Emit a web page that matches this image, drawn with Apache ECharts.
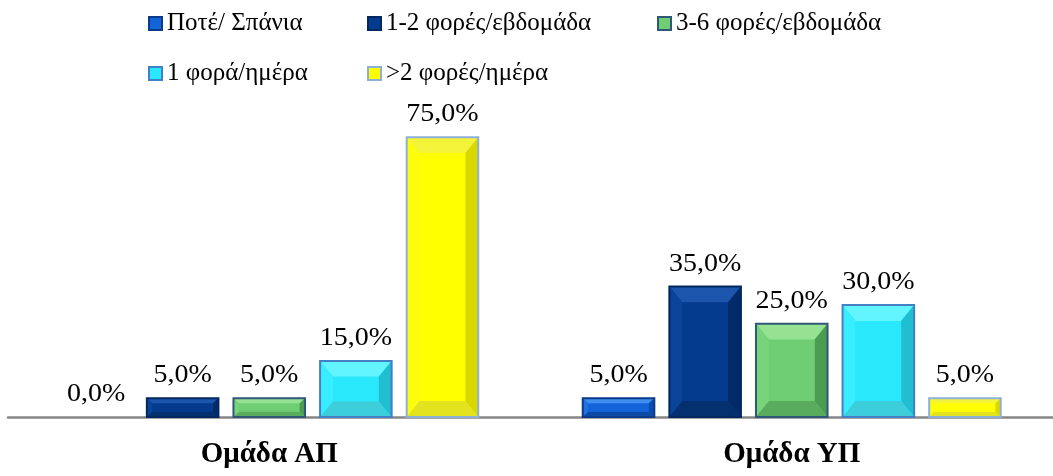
<!DOCTYPE html>
<html>
<head>
<meta charset="utf-8">
<script src="https://cdn.jsdelivr.net/npm/echarts@6/dist/echarts.min.js"></script>
<style>
  html, body { margin: 0; padding: 0; background: #fff; }
  #chart { width: 1053px; height: 476px; }
</style>
</head>
<body>
<div id="chart"></div>
<script>
// Groups along the x axis
const categories = ['Ομάδα ΑΠ', 'Ομάδα ΥΠ'];

// Frequency classes (legend entries)
const seriesNames = ['Ποτέ/ Σπάνια', '1-2 φορές/εβδομάδα', '3-6 φορές/εβδομάδα', '1 φορά/ημέρα', '>2 φορές/ημέρα'];

// Percentages per group
const neverRarely = [0.0, 5.0];
const onceTwiceWeek = [5.0, 35.0];
const threeSixWeek = [5.0, 25.0];
const oncePerDay = [15.0, 30.0];
const overTwiceDay = [75.0, 5.0];

const seriesValues = [neverRarely, onceTwiceWeek, threeSixWeek, oncePerDay, overTwiceDay];

// Bevelled bar shades: face, top, left, right, bottom, border
const palettes = [
  { face: '#1264d8', top: '#3f8ef0', left: '#2070e0', right: '#0a4cae', bottom: '#0c4aa6', border: '#0a3a88' },
  { face: '#053b8e', top: '#1b55ac', left: '#0a4498', right: '#032b6a', bottom: '#04306f', border: '#03285f' },
  { face: '#6fce74', top: '#94e292', left: '#78d47b', right: '#4b9b51', bottom: '#59ab5d', border: '#2f5878' },
  { face: '#29e8fc', top: '#62f5ff', left: '#38edfe', right: '#21bdd1', bottom: '#3dcedb', border: '#4180c6' },
  { face: '#ffff00', top: '#f4f43a', left: '#fcfc0c', right: '#d8d800', bottom: '#e2e21e', border: '#8eb0d8' }
];

const FONT = 'Liberation Serif';
const CAT_GAP = 0.2;   // share of each category left empty
const BAR_GAP = 0.21;  // gap between bars, relative to bar width
const N = seriesValues.length;

function fmt(v) {
  return v.toFixed(1).replace('.', ',') + '%';
}

function makeRenderer(idx) {
  const pal = palettes[idx];
  return function (params, api) {
    const cat = api.value(0);
    const val = api.value(1);
    const band = api.size([1, 0])[0];
    const groupW = band * (1 - CAT_GAP);
    const w = groupW / (N + (N - 1) * BAR_GAP);
    const step = w * (1 + BAR_GAP);
    const base = api.coord([cat, 0]);
    const topPt = api.coord([cat, val]);
    const x0 = base[0] - groupW / 2 + idx * step;
    const x1 = x0 + w;
    const y0 = topPt[1];
    const y1 = base[1];
    const h = y1 - y0;
    const cx = (x0 + x1) / 2;
    const children = [];
    if (h > 0.5) {
      const bv = Math.min(16, h * 0.28);
      const bh = Math.min(13, w * 0.2, h * 0.3);
      const ix0 = x0 + bh, ix1 = x1 - bh, iy0 = y0 + bv, iy1 = y1 - bv;
      children.push(
        { type: 'rect', shape: { x: x0, y: y0, width: w, height: h }, style: { fill: pal.face } },
        { type: 'polygon', shape: { points: [[x0, y0], [x1, y0], [ix1, iy0], [ix0, iy0]] }, style: { fill: pal.top } },
        { type: 'polygon', shape: { points: [[x0, y0], [ix0, iy0], [ix0, iy1], [x0, y1]] }, style: { fill: pal.left } },
        { type: 'polygon', shape: { points: [[x1, y0], [x1, y1], [ix1, iy1], [ix1, iy0]] }, style: { fill: pal.right } },
        { type: 'polygon', shape: { points: [[x0, y1], [ix0, iy1], [ix1, iy1], [x1, y1]] }, style: { fill: pal.bottom } },
        { type: 'rect', shape: { x: ix0, y: iy0, width: ix1 - ix0, height: Math.max(0, iy1 - iy0) }, style: { fill: pal.face } },
        { type: 'rect', shape: { x: x0, y: y0, width: w, height: h }, style: { fill: 'none', stroke: pal.border, lineWidth: 2 } }
      );
    }
    // value label above the bar, slightly widened serif
    children.push({
      type: 'text',
      x: cx,
      y: y0 - 10,
      scaleX: 1.12,
      style: {
        x: 0, y: 0,
        text: fmt(val),
        align: 'center', verticalAlign: 'bottom',
        fontFamily: FONT,
        fontSize: 25,
        fill: '#000'
      }
    });
    return { type: 'group', children: children };
  };
}

const series = seriesNames.map(function (name, i) {
  return {
    type: 'custom',
    name: name,
    renderItem: makeRenderer(i),
    encode: { x: 0, y: 1 },
    itemStyle: { color: palettes[i].face, borderColor: palettes[i].border, borderWidth: 1 },
    data: seriesValues[i].map(function (v, c) { return [c, v]; }),
    z: 2
  };
});

// Legend entries placed in two rows
const legendSlots = [
  { left: 148, top: 11 },
  { left: 367, top: 11 },
  { left: 657, top: 11 },
  { left: 148, top: 61 },
  { left: 367, top: 61 }
];

const legendText = { fontFamily: FONT, fontSize: 25, color: '#000' };

const legends = seriesNames.map(function (name, i) {
  return {
    data: [{ name: name, textStyle: legendText }],
    left: legendSlots[i].left,
    top: legendSlots[i].top,
    padding: 0,
    icon: 'rect',
    itemWidth: 13,
    itemHeight: 13,
    itemGap: 0,
    selectedMode: false,
    textStyle: legendText
  };
});

const chart = echarts.init(document.getElementById('chart'), null, { renderer: 'canvas' });
chart.setOption({
  animation: false,
  backgroundColor: '#ffffff',
  textStyle: { fontFamily: FONT },
  legend: legends,
  grid: { left: 8, width: 1052, top: 44, bottom: 59, containLabel: false },
  xAxis: {
    type: 'category',
    data: categories,
    boundaryGap: true,
    axisTick: { show: false },
    axisLine: { lineStyle: { color: '#868686', width: 2.5 } },
    axisLabel: { fontFamily: FONT, fontSize: 29, fontWeight: 'bold', color: '#000', margin: 23 }
  },
  yAxis: {
    type: 'value',
    min: 0,
    max: 100,
    show: false,
    splitLine: { show: false }
  },
  series: series
});
</script>
</body>
</html>
